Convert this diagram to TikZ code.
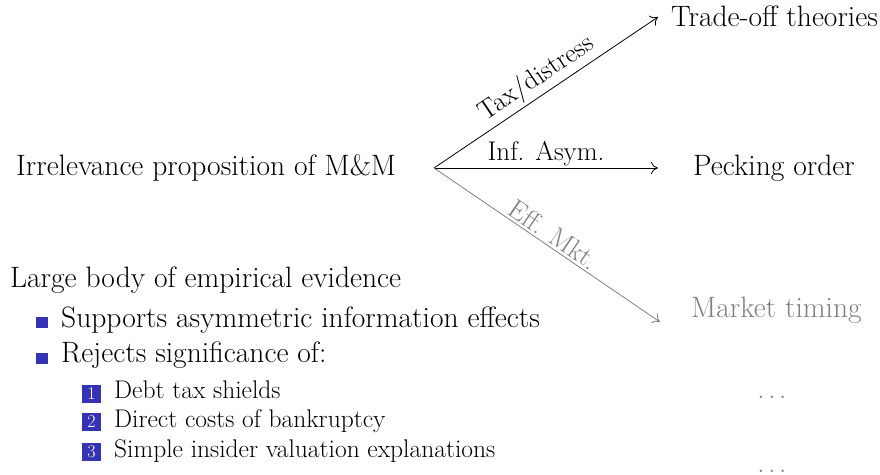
\documentclass[tikz,border=0pt]{standalone}
\usepackage{fontspec}
\usetikzlibrary{arrows.meta}
\definecolor{bblue}{RGB}{51,51,179}
\definecolor{mgray}{RGB}{128,128,128}
\begin{document}
\begin{tikzpicture}[x=1pt,y=-1pt,
  main/.style={font=\fontsize{29.5}{34}\selectfont, inner sep=0pt},
  lab/.style={font=\fontsize{27}{30}\selectfont, inner sep=2.5pt},
  sub/.style={font=\fontsize{25.5}{30}\selectfont, inner sep=0pt},
  conn/.style={line width=0.8pt, -{To[length=7pt,width=12pt]}},
  bul/.style={fill=bblue, minimum width=12pt, minimum height=11pt, inner sep=0pt},
  numbox/.style={fill=bblue, text=white, minimum width=19pt, minimum height=18pt, inner sep=0pt, font=\fontsize{18}{18}\selectfont},
  ]
\useasboundingbox (0,0) rectangle (880,474);
% top part
\node[main, anchor=base west] (irr) at (16,175) {Irrelevance proposition of M\&M};
\coordinate (split) at (434,168);
\node[main, anchor=base west] (trade) at (671,26) {Trade-off theories};
\node[main, anchor=base west] (peck) at (693,175) {Pecking order};
\node[main, anchor=base west, text=mgray] (mkt) at (691,317) {Market timing};
\coordinate (tA) at (658,17);
\coordinate (tB) at (658,168);
\coordinate (tC) at (660,322);
\draw[conn] (split) -- node[lab, above, sloped] {Tax/distress} (tA);
\draw[conn] (split) -- node[lab, above, inner sep=1.5pt] {Inf. Asym.} (tB);
\draw[conn, mgray] (split) -- node[lab, above, sloped, text=mgray] {Eff. Mkt.} (tC);
% bottom part
\node[main, anchor=base west] (large) at (10,287) {Large body of empirical evidence};
\node[bul] (b1) at (42,322.5) {};
\node[main, anchor=base west] (s1) at (61,327) {Supports asymmetric information effects};
\node[bul] (b2) at (42,358) {};
\node[main, anchor=base west] (s2) at (61,362) {Rejects significance of:};
\node[numbox] (n1) at (91.5,393.5) {1};
\node[sub, anchor=base west] (e1) at (114,398) {Debt tax shields};
\node[numbox] (n2) at (91.5,422) {2};
\node[sub, anchor=base west] (e2) at (114,427) {Direct costs of bankruptcy};
\node[numbox] (n3) at (91.5,452) {3};
\node[sub, anchor=base west] (e3) at (114,457) {Simple insider valuation explanations};
\node[sub, anchor=base, text=mgray] (d1) at (772,398) {$\ldots$};
\node[sub, anchor=base, text=mgray] (d2) at (772,472) {$\ldots$};
\end{tikzpicture}
\end{document}
